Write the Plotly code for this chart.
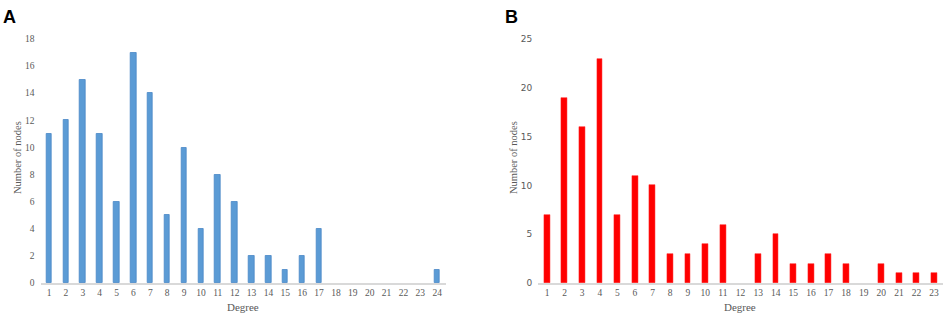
import plotly.graph_objects as go

degree_a = list(range(1, 25))
nodes_a = [11, 12, 15, 11, 6, 17, 14, 5, 10, 4, 8, 6, 2, 2, 1, 2, 4, 0, 0, 0, 0, 0, 0, 1]
degree_b = list(range(1, 24))
nodes_b = [7, 19, 16, 23, 7, 11, 10, 3, 3, 4, 6, 0, 3, 5, 2, 2, 3, 2, 0, 2, 1, 1, 1]
yticks_a = [0, 2, 4, 6, 8, 10, 12, 14, 16, 18]
yticks_b = [0, 5, 10, 15, 20, 25]

W, H = 949, 321


def px(x):
    return x / W


def py(y):
    return (H - y) / H


fig = go.Figure()
fig.add_trace(go.Bar(x=degree_a, y=nodes_a, width=0.32, xaxis="x", yaxis="y",
                     marker=dict(color="#5B9BD5",
                                 line=dict(color="#4A88C7", width=[0.8 if v else 0 for v in nodes_a])),
                     showlegend=False, hoverinfo="skip"))
fig.add_trace(go.Bar(x=degree_b, y=nodes_b, width=0.33, xaxis="x2", yaxis="y2",
                     marker=dict(color="#FF0000",
                                 line=dict(color="#FF2020", width=[0.5 if v else 0 for v in nodes_b])),
                     showlegend=False, hoverinfo="skip"))

serif = "Liberation Serif"
tickfont = dict(family=serif, size=9.5, color="#595959")
common_x = dict(showgrid=False, zeroline=False, showline=True, linecolor="#D9D9D9", linewidth=1.5,
                ticks="", tickfont=tickfont, fixedrange=True)
common_y = dict(showgrid=False, zeroline=False, showline=False, ticks="", fixedrange=True,
                ticklabelstandoff=5)

fig.update_layout(
    width=W, height=H, margin=dict(l=0, r=0, t=0, b=0),
    paper_bgcolor="white", plot_bgcolor="white",
    xaxis=dict(domain=[px(40.6), px(445.6)], range=[0.5, 24.5], tickvals=degree_a,
               anchor="y", **common_x),
    yaxis=dict(domain=[py(287), py(35)], range=[0, 18], tickvals=yticks_a, anchor="x",
               tickfont=dict(family=serif, size=9.5, color="#595959"), **common_y),
    xaxis2=dict(domain=[px(538.2), px(942.9)], range=[0.5, 23.5], tickvals=degree_b,
                anchor="y2", **common_x),
    yaxis2=dict(domain=[py(287), py(35)], range=[0, 25], tickvals=yticks_b, anchor="x2",
                tickfont=dict(family="DejaVu Sans", size=9, color="#595959"), **common_y),
    bargap=0,
)

ann = [
    dict(text="<b>A</b>", x=px(1), y=py(12), xanchor="left", yanchor="middle",
         font=dict(family="Liberation Sans", size=18, color="black")),
    dict(text="<b>B</b>", x=px(503), y=py(12), xanchor="left", yanchor="middle",
         font=dict(family="Liberation Sans", size=18, color="black")),
    dict(text="Number of nodes", x=px(17), y=py(158), textangle=-90,
         xanchor="center", yanchor="middle", font=dict(family=serif, size=10.5, color="#595959")),
    dict(text="Number of nodes", x=px(513), y=py(158), textangle=-90,
         xanchor="center", yanchor="middle", font=dict(family=serif, size=10.5, color="#595959")),
    dict(text="Degree", x=px(243), y=py(312), xanchor="center", yanchor="middle",
         font=dict(family=serif, size=11, color="#595959")),
    dict(text="Degree", x=px(740), y=py(312), xanchor="center", yanchor="middle",
         font=dict(family=serif, size=11, color="#595959")),
]
for a in ann:
    a.update(xref="paper", yref="paper", showarrow=False)
fig.update_layout(annotations=ann)

fig.write_html("out.html", config={"displayModeBar": False},
               post_script="document.body.style.margin='0';document.body.style.overflow='hidden';")
